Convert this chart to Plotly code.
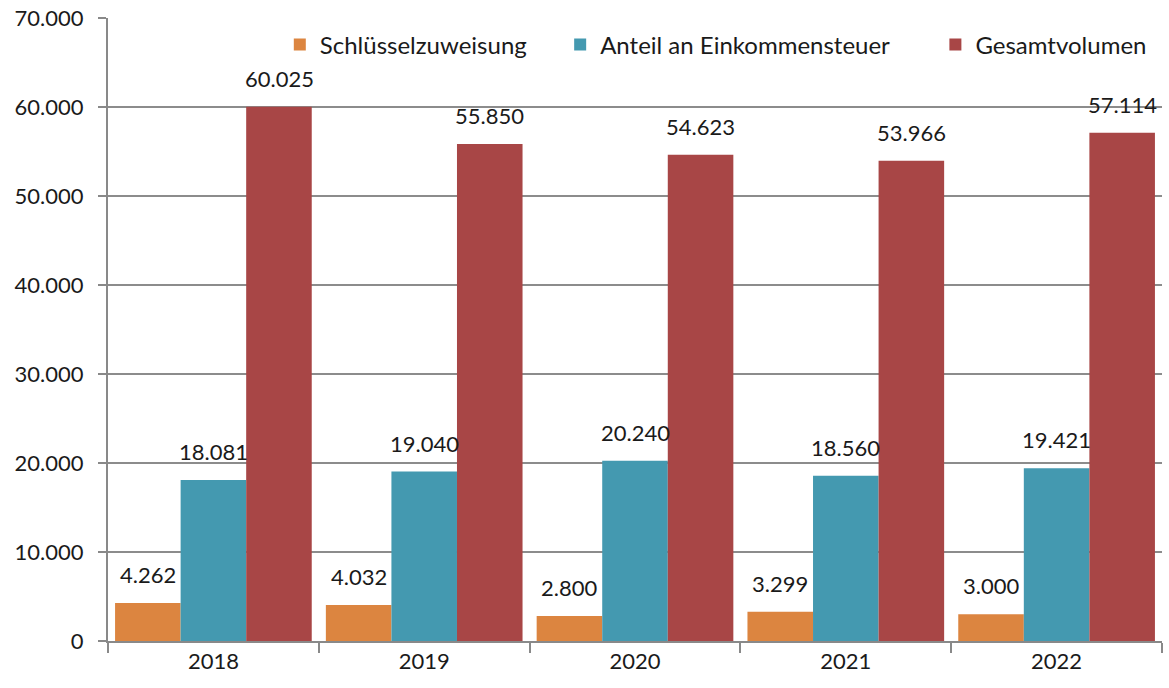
import plotly.graph_objects as go

# Daten
jahre = ["2018", "2019", "2020", "2021", "2022"]
schluesselzuweisung = [4262, 4032, 2800, 3299, 3000]
anteil_einkommensteuer = [18081, 19040, 20240, 18560, 19421]
gesamtvolumen = [60025, 55850, 54623, 53966, 57114]

serien = [
    ("Schlüsselzuweisung", schluesselzuweisung, "#DC8540"),
    ("Anteil an Einkommensteuer", anteil_einkommensteuer, "#4499B0"),
    ("Gesamtvolumen", gesamtvolumen, "#A84646"),
]

schrift = "Lato, 'Open Sans', sans-serif"
fig = go.Figure()

# jede Serie bekommt eine eigene Legende, damit die Abstände wie im Original sind
legenden = ["legend", "legend2", "legend3"]
for (name, werte, farbe), leg in zip(serien, legenden):
    fig.add_trace(go.Bar(
        x=jahre, y=werte, name=name, legend=leg,
        marker=dict(color=farbe, line=dict(width=0)),
    ))

# Datenbeschriftungen etwas über den Balken
balkenbreite = 65.6
for i, (name, werte, farbe) in enumerate(serien):
    for j, wert in enumerate(werte):
        fig.add_annotation(
            x=j, y=wert, text=f"{wert:,}".replace(",", "."),
            showarrow=False, xshift=(i - 1) * balkenbreite, yshift=13,
            yanchor="bottom", font=dict(size=22, color="#1a1a1a", family=schrift),
        )

leg_stil = dict(orientation="h", xanchor="left", y=0.993, yanchor="top",
                font=dict(size=24), bgcolor="rgba(0,0,0,0)")

fig.update_layout(
    width=1169, height=688,
    margin=dict(l=108, r=7, t=18, b=47),
    paper_bgcolor="white", plot_bgcolor="white",
    barmode="group", bargap=0.067, bargroupgap=0,
    separators=",.",
    font=dict(family=schrift, size=22, color="#1a1a1a"),
    showlegend=True,
    legend=dict(x=0.163, **leg_stil),
    legend2=dict(x=0.429, **leg_stil),
    legend3=dict(x=0.785, **leg_stil),
)

fig.update_xaxes(
    type="category", range=[-0.5, len(jahre) - 0.5], showgrid=False,
    showline=True, linecolor="#898989", linewidth=2, automargin=False,
    ticks="outside", tickson="boundaries", ticklen=10, tickcolor="#898989", tickwidth=2,
    tickfont=dict(size=22),
)
fig.update_yaxes(
    range=[0, 70000], dtick=10000, tickformat=",",
    showgrid=True, gridcolor="#8c8c8c", gridwidth=1.5,
    showline=True, linecolor="#898989", linewidth=2, automargin=False,
    ticks="outside", ticklen=8, tickcolor="#898989", tickwidth=2,
    ticklabelstandoff=10, ticklabeloverflow="allow",
    tickfont=dict(size=22), zeroline=False,
)

# Standard-Seitenrand des Browsers entfernen, Modebar ausblenden
fig.write_html("out.html", config={"displayModeBar": False},
               post_script="document.body.style.margin='0';")
